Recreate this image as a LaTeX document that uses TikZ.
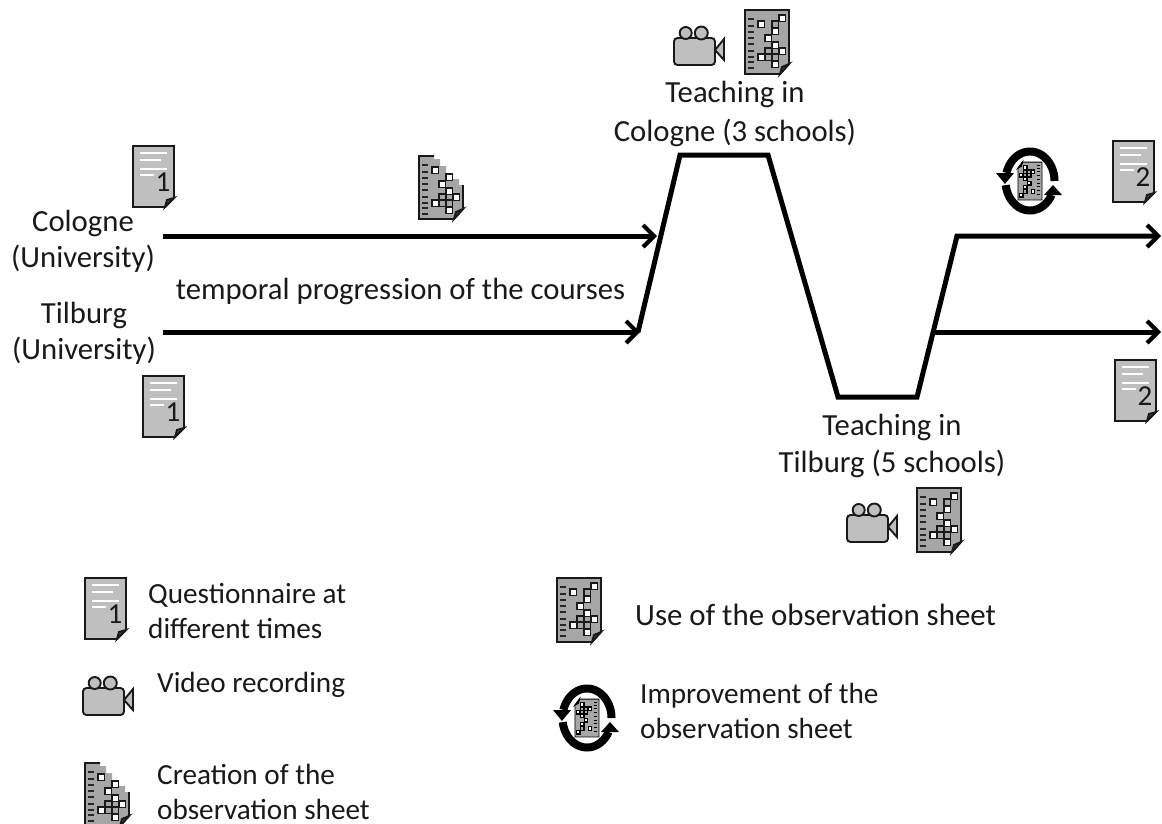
\documentclass[tikz,border=0pt]{standalone}
\usepackage{fontspec}
\setmainfont{Carlito}
\usetikzlibrary{arrows.meta}
\definecolor{docgrey}{HTML}{BFBFBF}
\definecolor{sheetgrey}{HTML}{A6A6A6}
\tikzset{
 lbl/.style={inner sep=0pt,font=\fontsize{30.7}{36}\selectfont,align=left,text=black!90},
 lblc/.style={lbl,align=center},
 lgd/.style={lbl,anchor=west,font=\fontsize{29.2}{35}\selectfont},
 flow/.style={line width=5pt,line join=miter,-{Straight Barb[length=11pt,width=22pt,line width=4.2pt]}},
 iconline/.style={line width=1.9pt,draw=black!90},
 cell/.style={line width=1.7pt,draw=black!90},
}
\newcommand{\gridbits}{%
 \foreach \b in {9,16,22,28,34,41,47,52,58}{\draw[line width=1.2pt,black!85] (3,\b)--(9,\b);}
 \foreach \a/\b in {23/41,30/41,23/47,30/47}{\draw[cell,fill=sheetgrey] (\a-3,\b-3) rectangle ++(6.4,6.4);}
 \foreach \a/\b in {16/14,30/21,23/28,30/35,37/41,16/47,30/54}{\draw[cell,fill=white] (\a-3,\b-3) rectangle ++(6.4,6.4);}
}
\newcommand{\qdoc}[3]{\begin{scope}[shift={(#1,#2)}]
 \draw[iconline,fill=docgrey] (0,0)--(41,0)--(41,52)--(32,61)--(0,61)--cycle;
 \draw[iconline,fill=black!70] (32,61)--(34,54)--(41,52)--cycle;
 \draw[white,line width=1.4pt] (7,7)--(34,7) (7,14)--(28,14) (7,23)--(34,23) (7,29)--(21,29);
 \node[inner sep=0pt,font=\fontsize{29}{30}\selectfont,text=black!90] at (30,36) {#3};
\end{scope}}
\newcommand{\sheetbody}{%
 \draw[iconline,fill=sheetgrey] (0,0)--(44,0)--(44,54)--(35,64)--(0,64)--cycle;
 \draw[iconline,fill=black!70] (35,64)--(37,57)--(44,54)--cycle;
 \draw[cell,fill=sheetgrey] (27,11) rectangle ++(6.4,6.4);
 \draw[cell,fill=white] (34,5) rectangle ++(6.4,6.4);
 \gridbits}
\newcommand{\sheeticon}[2]{\begin{scope}[shift={(#1,#2)}]\sheetbody\end{scope}}
\newcommand{\creationicon}[2]{\begin{scope}[shift={(#1,#2)}]
 \fill[sheetgrey] (0,0)--(15,0)--(15,3)--(21,3)--(21,10)--(27,10)--(27,17)--(34,17)--(34,23)--(40,23)--(40,29)--(44,29)--(44,53)--(35,63)--(0,63)--cycle;
 \draw[iconline] (15,0)--(0,0)--(0,63)--(35,63)--(44,53)--(44,29);
 \draw[iconline,fill=black!70] (35,63)--(37,56)--(44,53)--cycle;
 \gridbits
\end{scope}}
\newcommand{\cameraicon}[2]{\begin{scope}[shift={(#1,#2)}]
 \draw[iconline,fill=docgrey,rounded corners=3.5pt] (0,11) rectangle (41,38);
 \draw[iconline,fill=docgrey] (41,23)--(50,12)--(50,33)--cycle;
 \draw[iconline,fill=docgrey] (11.7,6) circle (6);
 \draw[iconline,fill=docgrey] (27.3,6) circle (6.5);
\end{scope}}
\newcommand{\improveicon}[2]{\begin{scope}[shift={(#1,#2)}]
 \draw[line width=8pt] plot[domain=0:164,samples=40] ({24.5*cos(\x)},{-29.5*sin(\x)});
 \draw[line width=8pt] plot[domain=188:332,samples=40] ({24.5*cos(\x)},{-29.5*sin(\x)});
 \fill (-34,-8)--(-16,-8)--(-25,3)--cycle;
 \fill (14,14)--(32,14)--(23,4)--cycle;
 \begin{scope}[rotate=180,xscale=.56,yscale=.6,shift={(-21.5,-31.5)}]
 \draw[line width=.8pt,fill=sheetgrey] (0,0)--(43,0)--(43,53)--(35,63)--(0,63)--cycle;
 \draw[line width=1.1pt,fill=black!70] (35,63)--(37,56)--(43,53)--cycle;
 \foreach \a/\b in {30/14,23/41,30/41,23/47,30/47}{\draw[line width=1.3pt,fill=sheetgrey] (\a-3,\b-3) rectangle ++(6,6);}
 \foreach \a/\b in {16/14,30/21,23/28,30/35,37/41,16/47,30/54,37/8}{\draw[line width=1.3pt,fill=white] (\a-3,\b-3) rectangle ++(6,6);}
 \foreach \b in {9,16,22,28,34,41,47,52,58}{\draw[line width=1.1pt] (3,\b)--(9,\b);}
 \end{scope}
\end{scope}}
\begin{document}
\begin{tikzpicture}[x=1pt,y=-1pt]
\useasboundingbox (0,0) rectangle (1162,823);
\coordinate (cs) at (163,236);
\coordinate (ce) at (657,236);
\coordinate (ts) at (163,332);
\coordinate (te) at (640,332);
\coordinate (p0) at (638,332);
\coordinate (p1) at (680,155);
\coordinate (p2) at (768,155);
\coordinate (p3) at (838,397);
\coordinate (p4) at (917,397);
\coordinate (p5) at (957,236);
\coordinate (p6) at (1161,236);
\coordinate (q0) at (933,332);
\coordinate (q1) at (1161,332);
\draw[flow] (cs)--(ce);
\draw[flow] (ts)--(te);
\draw[flow] (p0)--(p1)--(p2)--(p3)--(p4)--(p5)--(p6);
\draw[flow] (q0)--(q1);
\node[lblc] (cologne) at (83,241) {Cologne\\(University)};
\node[lblc] (tilburg) at (84,333) {Tilburg\\(University)};
\node[lbl] (temporal) at (400.5,291) {temporal progression of the courses};
\node[lblc,font=\fontsize{30.7}{39}\selectfont] (teachC) at (735,114) {Teaching in\\Cologne (3 schools)};
\node[lblc,font=\fontsize{30.7}{37}\selectfont] (teachT) at (892,446) {Teaching in\\Tilburg (5 schools)};
\node[lgd] (lq) at (148,611) {Questionnaire at\\different times};
\node[lgd] (lv) at (157,685) {Video recording};
\node[lgd] (lc) at (157,792) {Creation of the\\observation sheet};
\node[lbl,anchor=west,font=\fontsize{30.9}{36}\selectfont] (lu) at (635,615) {Use of the observation sheet};
\node[lgd] (li) at (640,711) {Improvement of the\\observation sheet};
\qdoc{133}{146}{1}
\qdoc{143}{376}{1}
\qdoc{1113}{141}{2}
\qdoc{1115}{360}{2}
\qdoc{85}{578}{1}
\sheeticon{745}{10}
\sheeticon{917}{488}
\sheeticon{557}{578}
\creationicon{419}{156}
\creationicon{85}{763}
\cameraicon{674}{27}
\cameraicon{847}{504}
\cameraicon{83}{677}
\improveicon{1030}{181}
\improveicon{587}{718}
\end{tikzpicture}
\end{document}
